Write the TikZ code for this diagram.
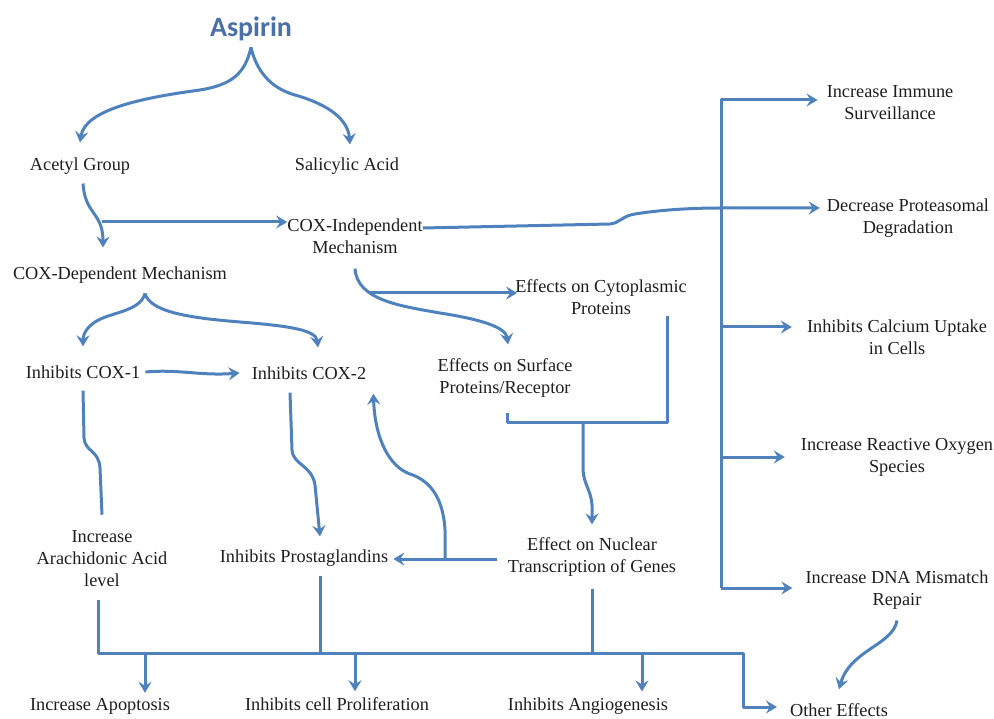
\documentclass[tikz,border=0pt]{standalone}
\usepackage{fontspec}
\setmainfont{Liberation Serif}
\newfontfamily\titlefont{Carlito}
\usetikzlibrary{positioning, arrows.meta}
\definecolor{linkblue}{RGB}{79,129,189}
\definecolor{titleblue}{RGB}{74,112,168}
\definecolor{txtgray}{RGB}{30,30,30}

\begin{document}
\begin{tikzpicture}[
		x=1pt, y=-1pt,
		lbl/.style={inner sep=0pt, align=center, text=txtgray, font=\fontsize{18.3}{22}\selectfont},
		arrow/.style={draw=linkblue, line width=3pt, line join=round, -{Stealth[length=11pt, width=13pt, inset=4pt]}},
		link/.style={draw=linkblue, line width=3pt, line join=round}
		]
		\useasboundingbox (0,0) rectangle (994,719);
		
		% Nodes
		\node[inner sep=0pt, text=titleblue, font=\titlefont\bfseries\fontsize{28}{30}\selectfont] (asp) at (251,29) {Aspirin};
		\node[lbl] (acetyl) at (80,166) {Acetyl Group};
		\node[lbl] (salic) at (347,166) {Salicylic Acid};
		\node[lbl] (coxind) at (355,236) {COX-Independent\\Mechanism};
		\node[lbl] (coxdep) at (120,275) {COX-Dependent Mechanism};
		\node[lbl] (cytopl) at (601,297) {Effects on Cytoplasmic\\Proteins};
		\node[lbl] (surface) at (505,378) {Effects on Surface\\Proteins/Receptor};
		\node[lbl] (cox1) at (83,372) {Inhibits COX-1};
		\node[lbl] (cox2) at (309,373) {Inhibits COX-2};
		\node[lbl] (arach) at (102,559) {Increase\\Arachidonic Acid\\level};
		\node[lbl] (prost) at (304,558) {Inhibits Prostaglandins};
		\node[lbl] (nuclear) at (592,557) {Effect on Nuclear\\Transcription of Genes};
		\node[lbl] (immune) at (890,103) {Increase Immune\\Surveillance};
		\node[lbl] (proteas) at (908,218) {Decrease Proteasomal\\Degradation};
		\node[lbl] (calcium) at (897,337) {Inhibits Calcium Uptake\\in Cells};
		\node[lbl] (ros) at (897,457) {Increase Reactive Oxygen\\Species};
		\node[lbl] (dna) at (897,590) {Increase DNA Mismatch\\Repair};
		\node[lbl] (apop) at (100,706) {Increase Apoptosis};
		\node[lbl] (prolif) at (337,704) {Inhibits cell Proliferation};
		\node[lbl] (angio) at (588,706) {Inhibits Angiogenesis};
		\node[lbl] (other) at (839,710) {Other Effects};
		
		% Ports
		\coordinate (acsplit) at (102,222);
		\coordinate (cxsplit) at (370,293);
		\coordinate (busv) at (721,588);
		\coordinate (brk) at (583,423);
		\coordinate (upsplit) at (445,559);
		\coordinate (nucout) at ([xshift=-11pt]nuclear.west);
		\coordinate (busl) at (98,653);
		\coordinate (busr) at (743,653);
		\coordinate (cytoin) at ([xshift=2pt,yshift=4pt]cytopl.west);
		\coordinate (calcin) at ([xshift=-15pt,yshift=10pt]calcium.west);
		\coordinate (rosin) at ([xshift=-16pt]ros.west);
		\coordinate (prostin) at ([xshift=5pt,yshift=-1pt]prost.east);
		\coordinate (prostout) at ([xshift=16pt,yshift=-9pt]prost.south);
		\coordinate (nucdown) at ([yshift=-12pt]nuclear.south);
		\coordinate (apopin) at ([xshift=45pt,yshift=5pt]apop.north);
		\coordinate (prolifin) at ([xshift=18pt,yshift=6pt]prolif.north);
		\coordinate (angioin) at ([xshift=54pt,yshift=6pt]angio.north);
		
		% Edges
		\draw[arrow] ([yshift=-6pt]asp.south) .. controls (245,75) and (230,85) .. (200,90) .. controls (140,98) and (85,110) .. ([yshift=15pt]acetyl.north);
		\draw[arrow] ([yshift=-6pt]asp.south) .. controls (256,70) and (270,88) .. (295,95) .. controls (330,105) and (348,120) .. ([xshift=3pt,yshift=13pt]salic.north);
		\draw[arrow] ([xshift=3pt,yshift=-9pt]acetyl.south) .. controls (85,215) and (103,212) .. ([xshift=-17pt,yshift=19pt]coxdep.north);
		\draw[arrow] (acsplit) -- (acsplit -| coxind.west);
		\draw[arrow] ([yshift=8pt]coxind.east) -- (610,224) .. controls (620,223) and (622,216) .. (635,214) .. controls (660,210) and (690,208) .. (720,208) -- ([xshift=-7pt,yshift=10pt]proteas.west);
		
		\draw[arrow] (busv) |- ([xshift=-9pt,yshift=3pt]immune.west);
		\draw[arrow] (calcin -| busv) -- (calcin);
		\draw[arrow] (rosin -| busv) -- (rosin);
		\draw[arrow] (busv) -- ([xshift=-13pt,yshift=2pt]dna.west);
		
		\draw[arrow] ([yshift=-15pt]coxind.south) .. controls (357,300) and (400,306) .. (440,313) .. controls (485,320) and (506,328) .. ([xshift=3pt,yshift=14pt]surface.north);
		\draw[arrow] (cxsplit) -- (cxsplit -| cytoin);
		
		\draw[arrow] ([xshift=25pt,yshift=-10pt]coxdep.south) .. controls (140,312) and (110,312) .. (95,322) .. controls (86,328) and (83,335) .. ([yshift=19pt]cox1.north);
		\draw[arrow] ([xshift=25pt,yshift=-10pt]coxdep.south) .. controls (150,312) and (190,318) .. (240,322) .. controls (290,326) and (316,330) .. ([xshift=9pt,yshift=19pt]cox2.north);
		\draw[arrow] ([xshift=5pt]cox1.east) .. controls (180,369) and (200,376) .. ([xshift=-12pt]cox2.west);
		\draw[link] ([yshift=-12pt]cox1.south) -- (84,438) .. controls (85,452) and (99,450) .. (100,468) -- ([yshift=16pt]arach.north);
		\draw[arrow] ([xshift=-19pt,yshift=-13pt]cox2.south) -- (292,450) .. controls (293,465) and (312,465) .. (315,485) -- ([xshift=16pt,yshift=13pt]prost.north);
		
		\draw[arrow] (prostin -| nucout) -- (prostin);
		\draw[arrow] (upsplit) -- (445,530) .. controls (443,495) and (428,480) .. (410,474) .. controls (390,467) and (375,440) .. ([xshift=7pt,yshift=-14pt]cox2.south east);
		
		\draw[link] ([xshift=2pt,yshift=-15pt]surface.south) |- (brk) -| ([xshift=66pt,yshift=-1pt]cytopl.south);
		\draw[arrow] (brk) -- (583,470) .. controls (584,485) and (591,490) .. (592,505) -- ([yshift=13pt]nuclear.north);
		
		\draw[arrow] ([xshift=-4pt,yshift=-13pt]arach.south) -- (busl) -- (busr) |- ([xshift=-13pt,yshift=3pt]other.west);
		\draw[link] (prostout) -- (prostout |- busl);
		\draw[link] (nucdown) -- (nucdown |- busl);
		\draw[arrow] (apopin |- busl) -- (apopin);
		\draw[arrow] (prolifin |- busl) -- (prolifin);
		\draw[arrow] (angioin |- busl) -- (angioin);
		\draw[arrow] ([yshift=-11pt]dna.south) .. controls (893,645) and (850,650) .. ([yshift=14pt]other.north);
		
	\end{tikzpicture}
\end{document}
